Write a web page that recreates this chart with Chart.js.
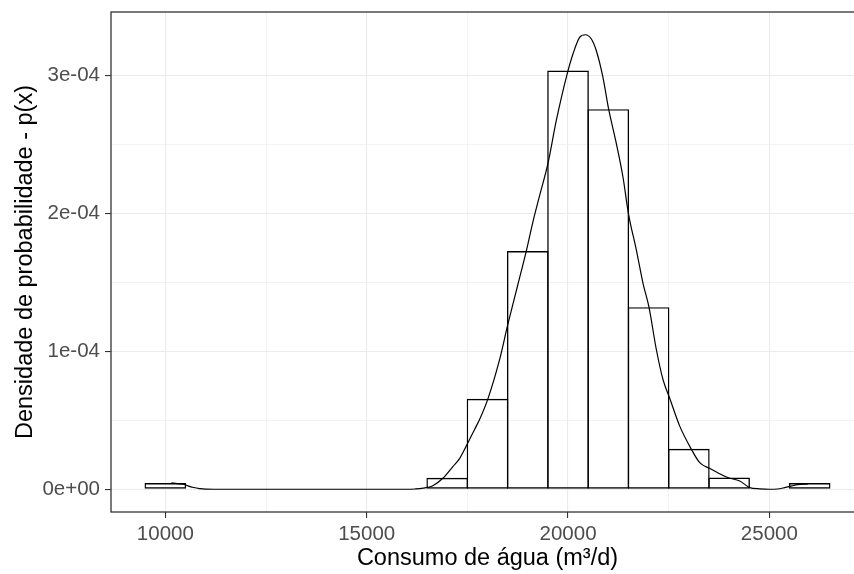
<!DOCTYPE html>
<html>
<head>
<meta charset="utf-8">
<script src="https://cdn.jsdelivr.net/npm/chart.js@4.4.1/dist/chart.umd.min.js"></script>
<style>
html,body{margin:0;padding:0;background:#ffffff;overflow:hidden;}
#wrap{width:854px;height:574px;overflow:hidden;position:relative;background:#ffffff;}
canvas{display:block;}
</style>
</head>
<body>
<div id="wrap"><canvas id="c" width="864" height="574"></canvas></div>
<script>
// ---- data ----
const binCenters = [10000, 11000, 12000, 13000, 14000, 15000, 16000, 17000, 18000,
                    19000, 20000, 21000, 22000, 23000, 24000, 25000, 26000];
const binDensity = [4.5e-6, 0, 0, 0, 0, 0, 0, 8.3e-6, 6.56e-5,
                    1.728e-4, 3.037e-4, 2.757e-4, 1.321e-4, 2.94e-5, 8.5e-6, 0, 4.5e-6];

const densityX = [10150, 10300, 10470, 10560, 10700, 10850, 11000, 11300, 13000, 16000,
                  16200, 16400, 16643, 16891, 17140, 17306, 17472, 17679, 17803, 18010,
                  18300, 18500, 18750, 18963, 19128, 19294, 19500, 19709, 19958, 20122,
                  20288, 20430, 20579, 20703, 20867, 21009, 21200, 21364, 21500, 21697,
                  21862, 22010, 22194, 22359, 22525, 22774, 23065, 23270, 23525, 23750,
                  23966, 24264, 24513, 24761, 25000, 25200, 25380, 25560, 25700, 25950];
const densityY = [4.6e-6, 4.1e-6, 3.5e-6, 2.5e-6, 1.3e-6, 5e-7, 1e-7, 0, 0, 0,
                  2e-7, 8e-7, 2.6e-6, 8.0e-6, 1.65e-5, 2.22e-5, 3.13e-5, 4.34e-5, 5.06e-5, 6.56e-5,
                  9.4e-5, 1.19e-4, 1.48e-4, 1.728e-4, 1.94e-4, 2.13e-4, 2.362e-4, 2.675e-4, 2.99e-4, 3.157e-4,
                  3.278e-4, 3.297e-4, 3.266e-4, 3.181e-4, 2.988e-4, 2.757e-4, 2.507e-4, 2.265e-4, 2.0e-4, 1.735e-4,
                  1.494e-4, 1.321e-4, 1.012e-4, 7.95e-5, 6.6e-5, 4.58e-5, 2.89e-5, 1.93e-5, 1.5e-5, 1.15e-5,
                  8.5e-6, 6.0e-6, 1.2e-6, 3e-7, 0, 2e-7, 1.2e-6, 2.4e-6, 3.3e-6, 3.8e-6];

const xTickValues = [10000, 15000, 20000, 25000];
const xTickLabels = ['10000', '15000', '20000', '25000'];
const xMinorValues = [12500, 17500, 22500];
const yTickValues = [0, 1e-4, 2e-4, 3e-4];
const yTickLabels = ['0e+00', '1e-04', '2e-04', '3e-04'];
const yMinorValues = [5e-5, 1.5e-4, 2.5e-4];
const xTitle = 'Consumo de água (m³/d)';
const yTitle = 'Densidade de probabilidade - p(x)';

// ---- helpers ----
function idxOf(vals, v, tol) {
  for (let i = 0; i < vals.length; i++) if (Math.abs(vals[i] - v) < tol) return i;
  return -1;
}
function isMajor(c, vals, tol) {
  return !!(c && c.tick && idxOf(vals, c.tick.value, tol) >= 0);
}
function setTicks(major, minor) {
  return function (scale) {
    scale.ticks = major.concat(minor).sort((a, b) => a - b).map(v => ({ value: v }));
  };
}
const FONT = "'Liberation Sans', Arial, Helvetica, sans-serif";
const GRID = '#EBEBEB';
const DARK = '#333333';

const panelBorder = {
  id: 'panelBorder',
  afterDatasetsDraw(chart) {
    const a = chart.chartArea, ctx = chart.ctx;
    ctx.save();
    ctx.strokeStyle = DARK;
    ctx.lineWidth = 1.3;
    ctx.strokeRect(a.left, a.top, a.right - a.left, a.bottom - a.top);
    ctx.restore();
  }
};

function fixedBox(size, horiz) {
  return function (scale) {
    if (horiz) scale.height = size; else scale.width = size;
    scale.paddingTop = 0; scale.paddingBottom = 0;
    scale.paddingLeft = 0; scale.paddingRight = 0;
  };
}

new Chart(document.getElementById('c'), {
  type: 'bar',
  data: {
    datasets: [
      {
        type: 'line',
        order: 0,
        data: densityX.map((x, i) => ({ x: x, y: densityY[i] })),
        borderColor: '#000000',
        borderWidth: 1.2,
        pointRadius: 0,
        fill: false,
        cubicInterpolationMode: 'monotone'
      },
      {
        type: 'bar',
        order: 1,
        data: binCenters.map((x, i) => ({ x: x, y: binDensity[i] })),
        backgroundColor: 'rgba(255,255,255,0)',
        borderColor: '#000000',
        borderWidth: 1.4,
        borderSkipped: false,
        barPercentage: 1.035,
        categoryPercentage: 1.0,
        grouped: false
      }
    ]
  },
  options: {
    responsive: false,
    animation: false,
    devicePixelRatio: 1,
    layout: { padding: { top: 12, left: 0, right: 0, bottom: 0 } },
    plugins: { legend: { display: false }, tooltip: { enabled: false } },
    scales: {
      x: {
        type: 'linear',
        min: 8650,
        max: 27350,
        offset: false,
        afterBuildTicks: setTicks(xTickValues, xMinorValues),
        afterFit: fixedBox(62, true),
        border: { display: false },
        grid: {
          offset: false,
          color: GRID,
          lineWidth: (c) => isMajor(c, xTickValues, 1) ? 1.1 : 0.6,
          tickColor: (c) => isMajor(c, xTickValues, 1) ? DARK : 'rgba(0,0,0,0)',
          tickLength: 6,
          tickWidth: 1.1
        },
        ticks: {
          autoSkip: false,
          maxRotation: 0,
          minRotation: 0,
          padding: 4,
          color: '#4D4D4D',
          font: { family: FONT, size: 20.5 },
          callback: (v) => { const i = idxOf(xTickValues, v, 1); return i >= 0 ? xTickLabels[i] : ''; }
        },
        title: {
          display: true,
          text: xTitle,
          color: '#000000',
          font: { family: FONT, size: 23.5 },
          padding: { top: 0, bottom: 1.5 }
        }
      },
      y: {
        type: 'linear',
        min: -1.649e-5,
        max: 3.462e-4,
        afterBuildTicks: setTicks(yTickValues, yMinorValues),
        afterFit: fixedBox(111, false),
        border: { display: false },
        grid: {
          color: GRID,
          lineWidth: (c) => isMajor(c, yTickValues, 1e-9) ? 1.1 : 0.6,
          tickColor: (c) => isMajor(c, yTickValues, 1e-9) ? DARK : 'rgba(0,0,0,0)',
          tickLength: 6,
          tickWidth: 1.1
        },
        ticks: {
          autoSkip: false,
          padding: 5,
          color: '#4D4D4D',
          font: { family: FONT, size: 20.5 },
          callback: (v) => { const i = idxOf(yTickValues, v, 1e-9); return i >= 0 ? yTickLabels[i] : ''; }
        },
        title: {
          display: true,
          text: yTitle,
          color: '#000000',
          font: { family: FONT, size: 23.5 },
          padding: { top: 11, bottom: 0 }
        }
      }
    }
  },
  plugins: [panelBorder]
});
</script>
</body>
</html>
